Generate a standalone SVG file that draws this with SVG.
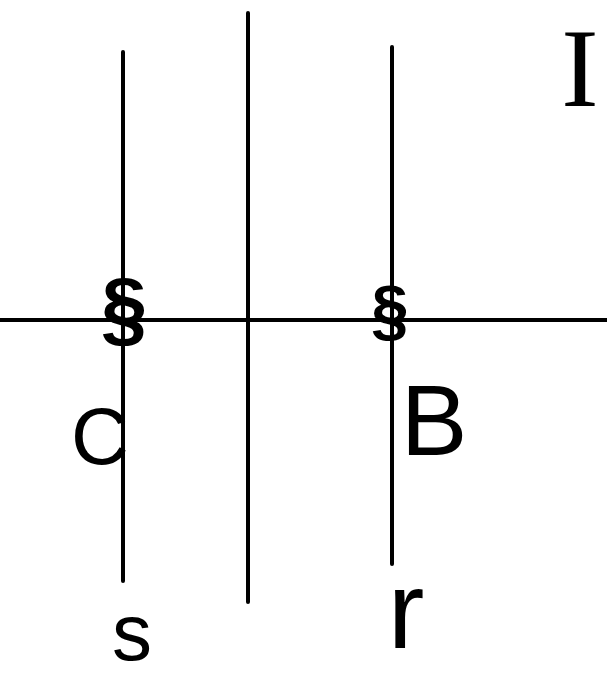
<svg xmlns="http://www.w3.org/2000/svg" width="607" height="676" viewBox="0 0 607 676">
<style>
.ln{stroke:#000;stroke-width:4;stroke-linecap:round;fill:none}
.lb{font-family:"Liberation Sans","DejaVu Sans",sans-serif;fill:#000;text-anchor:middle}
.mk{font-family:"Liberation Sans","DejaVu Sans",sans-serif;font-weight:bold;fill:#000;text-anchor:middle}
.sf{font-family:"Liberation Serif","DejaVu Serif",serif;fill:#000;text-anchor:middle}
</style>
<rect width="607" height="676" fill="#fff"/>
<g id="connectors">
<line class="ln" x1="0" y1="320" x2="607" y2="320"/>
<line class="ln" x1="123" y1="52" x2="123" y2="581"/>
<line class="ln" x1="248" y1="13" x2="248" y2="602"/>
<line class="ln" x1="392" y1="47" x2="392" y2="564"/>
</g>
<g id="label-I"><text class="sf" x="580" y="106" font-size="112">I</text></g>
<g id="point-left"><text class="mk" x="124" y="337" font-size="84">§</text></g>
<g id="point-right"><text class="mk" x="390" y="333" font-size="68">§</text></g>
<g id="label-C"><text class="lb" x="100" y="464" font-size="80">C</text></g>
<g id="label-B"><text class="lb" x="434" y="455" font-size="100">B</text></g>
<g id="label-s"><text class="lb" x="132" y="660" font-size="80">s</text></g>
<g id="label-r"><text class="lb" x="406" y="648" font-size="110">r</text></g>
</svg>
